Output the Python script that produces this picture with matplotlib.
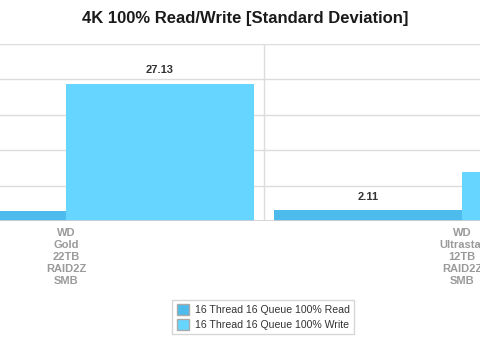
import matplotlib
matplotlib.use("Agg")
from matplotlib import pyplot as plt
from matplotlib.patches import Patch

categories = ["WD\nGold\n22TB\nRAID2Z\nSMB", "WD\nUltrastar\n12TB\nRAID2Z\nSMB"]
series_names = ["16 Thread 16 Queue 100% Read", "16 Thread 16 Queue 100% Write"]
read_values = [1.95, 2.11]
write_values = [27.13, 9.75]
y_ticks = [0, 7, 14, 21, 28, 35]

read_color = "#4dbbeb"
write_color = "#66d5ff"
grid_color = "#dcdcdc"

plt.rcParams["font.family"] = ["Liberation Sans", "DejaVu Sans"]

fig = plt.figure(figsize=(4.8, 3.41), dpi=100)
ax = fig.add_axes([0.0, 120 / 341, 1.0, 177 / 341])

x = list(range(len(categories)))
bar_w = 188 / 396
read_bars = ax.bar([i - bar_w / 2 for i in x], read_values, width=bar_w, color=read_color, zorder=3)
write_bars = ax.bar([i + bar_w / 2 for i in x], write_values, width=bar_w, color=write_color, zorder=3)

for bars, vals in ((read_bars, read_values), (write_bars, write_values)):
    ax.bar_label(bars, labels=[f"{v:.2f}" for v in vals], padding=6,
                 fontsize=8, fontweight="bold", color="#333333", clip_on=True)

ax.set_xlim(-66 / 396, 1 + 18 / 396)
ax.set_ylim(0, 35)
ax.set_yticks(y_ticks)
for t in y_ticks[1:]:
    ax.axhline(t, color=grid_color, lw=1, zorder=1)
ax.axhline(0, color="#d0d0d0", lw=1.2, zorder=4)
ax.axvline(0.5, color=grid_color, lw=1, zorder=1)

ax.set_xticks(x)
ax.set_xticklabels(categories, fontsize=8, fontweight="bold", color="#9a9a9a", linespacing=1.25)
ax.tick_params(axis="x", length=0, pad=5)
ax.tick_params(axis="y", length=0, labelleft=False)
for s in ax.spines.values():
    s.set_visible(False)

fig.suptitle("4K 100% Read/Write [Standard Deviation]", x=0.511, y=1 - 19 / 341,
             va="center", fontsize=12, fontweight="bold", color="#1a1a1a")

handles = [Patch(facecolor=read_color, edgecolor="#aaaaaa"),
           Patch(facecolor=write_color, edgecolor="#aaaaaa")]
leg = fig.legend(handles, series_names, loc="center", bbox_to_anchor=(263 / 480, 24 / 341),
                 fontsize=7.6, frameon=True, fancybox=False, edgecolor="#cccccc",
                 handlelength=1.2, handleheight=1.3, handletextpad=0.5, labelspacing=0.3,
                 borderpad=0.4, labelcolor="#333333")
leg.get_frame().set_linewidth(1)

fig.savefig("out.png", dpi=100)
